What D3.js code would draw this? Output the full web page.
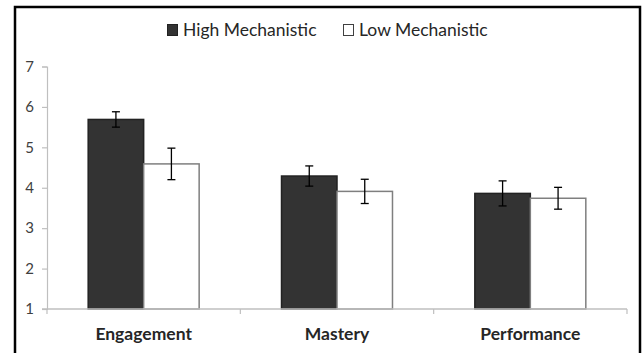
<!DOCTYPE html>
<html>
<head>
<meta charset="utf-8">
<script src="https://cdn.jsdelivr.net/npm/d3@7"></script>
<style>
  html, body { margin: 0; padding: 0; background: #fff; }
  svg { display: block; }
</style>
</head>
<body>
<svg id="chart" width="642" height="353"></svg>
<script>
const categories = ["Engagement", "Mastery", "Performance"];
const seriesNames = ["High Mechanistic", "Low Mechanistic"];
const highValues = [5.69, 4.29, 3.86];
const highErrors = [0.19, 0.25, 0.31];
const lowValues = [4.59, 3.91, 3.74];
const lowErrors = [0.39, 0.30, 0.27];
const yTicks = [1, 2, 3, 4, 5, 6, 7];

(function () {
const svg = d3.select("#chart");
const font = "Lato, 'Open Sans', sans-serif";

// outer frame
svg.append("rect")
  .attr("x", 15).attr("y", 7)
  .attr("width", 625).attr("height", 360)
  .attr("fill", "none").attr("stroke", "#000").attr("stroke-width", 2.5);

const mLeft = 47, mRight = 627, mTop = 66.5, mBottom = 309;

const y = d3.scaleLinear().domain([1, 7]).range([mBottom, mTop]);
const x0 = d3.scaleBand().domain(categories).range([mLeft, mRight]).padding(0);
const groupW = x0.bandwidth() * 0.574;
const x1 = d3.scaleBand().domain(seriesNames).range([0, groupW]).padding(0);

const data = categories.map((c, i) => ({
  cat: c,
  vals: [
    { s: seriesNames[0], v: highValues[i], e: highErrors[i] },
    { s: seriesNames[1], v: lowValues[i], e: lowErrors[i] }
  ]
}));

// y axis
const yAxis = svg.append("g")
  .attr("transform", `translate(${mLeft},0)`)
  .call(d3.axisLeft(y).tickValues(yTicks).tickSize(5).tickPadding(8).tickFormat(d3.format("d")));
yAxis.select(".domain").attr("stroke", "#bfbfbf").attr("stroke-width", 1.2);
yAxis.selectAll(".tick line").attr("stroke", "#bfbfbf").attr("stroke-width", 1.2);
yAxis.selectAll(".tick text")
  .attr("font-family", font).attr("font-size", 15).attr("fill", "#404040");

// bars
const groups = svg.append("g").selectAll("g").data(data).join("g")
  .attr("transform", d => `translate(${x0(d.cat) + (x0.bandwidth() - groupW) / 2},0)`);

groups.selectAll("rect").data(d => d.vals).join("rect")
  .attr("x", d => x1(d.s))
  .attr("y", d => y(d.v))
  .attr("width", x1.bandwidth())
  .attr("height", d => y(1) - y(d.v))
  .attr("fill", (d, i) => i === 0 ? "#333333" : "#ffffff")
  .attr("stroke", (d, i) => i === 0 ? "#222222" : "#7f7f7f")
  .attr("stroke-width", 1.5);

// error bars
const eb = groups.selectAll("g.err").data(d => d.vals).join("g").attr("class", "err");
eb.append("line")
  .attr("x1", d => x1(d.s) + x1.bandwidth() / 2)
  .attr("x2", d => x1(d.s) + x1.bandwidth() / 2)
  .attr("y1", d => y(d.v + d.e))
  .attr("y2", d => y(d.v - d.e))
  .attr("stroke", "#000").attr("stroke-width", 1.3);
[1, -1].forEach(sgn => {
  eb.append("line")
    .attr("x1", d => x1(d.s) + x1.bandwidth() / 2 - 4)
    .attr("x2", d => x1(d.s) + x1.bandwidth() / 2 + 4)
    .attr("y1", d => y(d.v + sgn * d.e))
    .attr("y2", d => y(d.v + sgn * d.e))
    .attr("stroke", "#000").attr("stroke-width", 1.3);
});

// x axis
const xAxis = svg.append("g").attr("transform", `translate(0,${mBottom})`);
xAxis.append("line").attr("x1", mLeft - 5).attr("x2", mRight).attr("y1", 0).attr("y2", 0)
  .attr("stroke", "#bfbfbf").attr("stroke-width", 1.5);
const bounds = categories.map(c => x0(c)).concat([x0(categories[categories.length - 1]) + x0.bandwidth()]);
xAxis.selectAll("line.tk").data(bounds).join("line").attr("class", "tk")
  .attr("x1", d => d).attr("x2", d => d).attr("y1", 0).attr("y2", 5)
  .attr("stroke", "#bfbfbf").attr("stroke-width", 1.2);
xAxis.selectAll("text").data(categories).join("text")
  .attr("x", d => x0(d) + x0.bandwidth() / 2)
  .attr("y", 31)
  .attr("text-anchor", "middle")
  .attr("font-family", font).attr("font-size", 17.5).attr("font-weight", "bold")
  .attr("fill", "#262626")
  .text(d => d);

// legend
const legend = svg.append("g");
const legX = [167, 343];
seriesNames.forEach((s, i) => {
  const g = legend.append("g").attr("transform", `translate(${legX[i]},24)`);
  g.append("rect").attr("x", 0.5).attr("y", 0.5).attr("width", 10).attr("height", 11)
    .attr("fill", i === 0 ? "#333333" : "#ffffff")
    .attr("stroke", i === 0 ? "#222" : "#404040").attr("stroke-width", 1);
  g.append("text").attr("x", 16).attr("y", 12)
    .attr("font-family", font).attr("font-size", 17.5).attr("fill", "#262626")
    .text(s);
});
})();
</script>
</body>
</html>
